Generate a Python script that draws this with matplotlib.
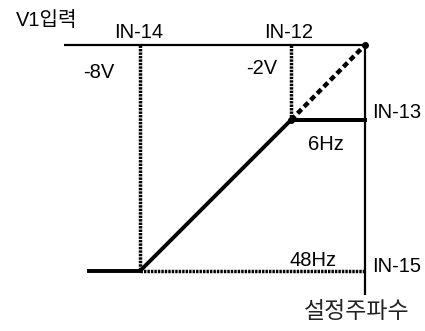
import matplotlib
matplotlib.use("Agg")
import matplotlib.pyplot as plt

plt.rcParams['font.family'] = ['Liberation Sans', 'Noto Sans CJK KR']

# 도식 좌표 (픽셀 기준, y 아래로 증가)
axis_x = [64, 365]          # V1 입력 축 (위쪽 가로선)
axis_y = 45
freq_x = 365                # 설정주파수 축 (오른쪽 세로선)
freq_y = [45, 295]

# 실제 출력 곡선
curve_x = [89, 140, 291, 365]
curve_y = [271, 271, 120, 120]
# 보조선
dash_x = [291, 365]
dash_y = [120, 45]

labels_top = ['IN-14', 'IN-12']
labels_top_x = [139, 289]
volt_labels = ['-8V', '-2V']
volt_pos = [(99, 72), (262, 69)]
right_labels = ['IN-13', 'IN-15']
right_y = [113, 266]
freq_labels = ['6Hz', '48Hz']
freq_pos = [(326, 145), (313, 260)]

fig = plt.figure(figsize=(4.25, 3.31), dpi=100)
ax = fig.add_axes([0, 0, 1, 1])
ax.set_xlim(0, 425)
ax.set_ylim(331, 0)
ax.axis('off')

ax.plot(axis_x, [axis_y, axis_y], color='black', lw=1.6, solid_capstyle='butt')
ax.plot([freq_x, freq_x], freq_y, color='black', lw=1.6, solid_capstyle='butt')

# 점선 보조선
dot = (0, (0.7, 0.3))
ax.plot([curve_x[1], curve_x[1]], [axis_y, curve_y[1]], color='black', lw=2.5, linestyle=dot)
ax.plot([curve_x[2], curve_x[2]], [axis_y, curve_y[2]], color='black', lw=2.5, linestyle=dot)
ax.plot([curve_x[1], freq_x], [curve_y[1], curve_y[1]], color='black', lw=2.5, linestyle=dot)
ax.plot(dash_x, dash_y, color='black', lw=3.2, linestyle=(0, (1.3, 0.8)))

ax.plot(curve_x, curve_y, color='black', lw=2.8, solid_joinstyle='miter')
ax.plot([curve_x[2], freq_x], [curve_y[2], curve_y[2]], color='black', lw=2.8)

ax.plot([freq_x], [axis_y], 'o', color='black', ms=4)
ax.plot([curve_x[2]], [curve_y[2]], 'o', color='black', ms=4)

fs = 14.5
ax.text(47, 20, 'V1입력', fontsize=fs, ha='center', va='center', fontweight='light')
for t, x in zip(labels_top, labels_top_x):
    ax.text(x, 33, t, fontsize=fs, ha='center', va='center')
for t, (x, y) in zip(volt_labels, volt_pos):
    ax.text(x, y, t, fontsize=fs, ha='center', va='center')
for t, y in zip(right_labels, right_y):
    ax.text(397, y, t, fontsize=fs, ha='center', va='center')
for t, (x, y) in zip(freq_labels, freq_pos):
    ax.text(x, y, t, fontsize=fs, ha='center', va='center')
ax.text(357, 312, '설정주파수', fontsize=16.5, ha='center', va='center',
        fontweight='light', color='#222222')

fig.savefig('out.png', dpi=100)
